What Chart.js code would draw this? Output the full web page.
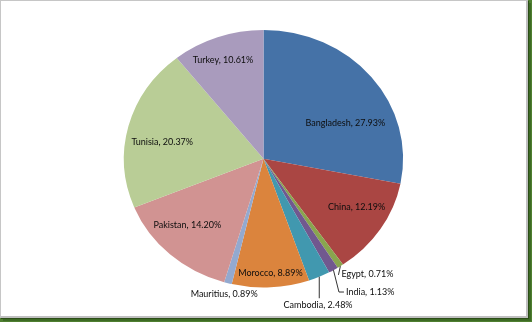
<!DOCTYPE html>
<html>
<head>
<meta charset="utf-8">
<script src="https://cdn.jsdelivr.net/npm/chart.js@4/dist/chart.umd.min.js"></script>
<style>
    body { margin: 0; background: #4f7f30; width: 532px; height: 322px; overflow: hidden; }
    #quadro {
        position: absolute; left: 0; top: 0;
        width: 525px; height: 315px;
        background: #fff;
        border: 1px solid #c6c6c6;
        border-right: 2px solid #c0c0c0;
        border-bottom: 2px solid #c0c0c0;
        box-shadow: 1px 1px 0 #2c4d18, 3px 3px 0 #3d6a24;
    }
    #grafico { position: absolute; left: 0; top: 0; }
</style>
</head>
<body>
<div id="quadro"></div>
<canvas id="grafico" width="532" height="322"></canvas>
<script>
// dados
const paises = ['Bangladesh', 'China', 'Egypt', 'India', 'Cambodia', 'Morocco', 'Mauritius', 'Pakistan', 'Tunisia', 'Turkey'];
const percentuais = [27.93, 12.19, 0.71, 1.13, 2.48, 8.89, 0.89, 14.20, 20.37, 10.61];

const cores = ['#4572A7', '#AA4643', '#89A54E', '#71588F', '#4198AF', '#DB843D', '#93A9CF', '#D19392', '#B9CD96', '#A99BBD'];

// a pizza original esta achatada na vertical
const achatamento = 0.922;

// posicao dos rotulos: fracao do raio + ajuste em px
const rotulosPos = [
    { f: 0.75, dx: 1, dy: 25, align: 'center' },
    { f: 0.75, dx: 5.5, dy: -4.6, align: 'center' },
    { f: 1, dx: 1.1, dy: 7.7, align: 'left', linha: 'reta' },
    { f: 1, dx: 12.5, dy: 21.9, align: 'left', linha: 'cotovelo' },
    { f: 1, dx: -1.2, dy: 28.5, align: 'center', linha: 'vertical' },
    { f: 0.75, dx: 1.5, dy: 18, align: 'center' },
    { f: 1, dx: -3.8, dy: 10.5, align: 'center' },
    { f: 0.75, dx: -6, dy: -6, align: 'center' },
    { f: 0.75, dx: 0, dy: 8, align: 'center' },
    { f: 0.75, dx: -6, dy: -8, align: 'center' },
];

// Elipse
const elipse = {
    id: 'elipse',
    beforeDatasetsDraw(chart) {
        const { ctx, chartArea: { top, bottom } } = chart;
        const cy = (top + bottom) / 2;
        ctx.save();
        ctx.translate(0, cy);
        ctx.scale(1, achatamento);
        ctx.translate(0, -cy);
    },
    afterDatasetsDraw(chart) {
        chart.ctx.restore();
    }
};

// Rotulos
const rotulos = {
    id: 'rotulos',
    afterDraw(chart) {
        const { ctx } = chart;
        const meta = chart.getDatasetMeta(0);
        ctx.save();
        ctx.font = '10px Lato';
        ctx.fillStyle = '#0d0d0d';
        ctx.strokeStyle = '#333';
        ctx.lineWidth = 1;
        ctx.textBaseline = 'middle';

        meta.data.forEach((arc, i) => {
            const { x, y, startAngle, endAngle, outerRadius } = arc.getProps(['x', 'y', 'startAngle', 'endAngle', 'outerRadius'], true);
            const meio = (startAngle + endAngle) / 2;
            const p = rotulosPos[i];
            const bx = x + Math.cos(meio) * outerRadius;
            const by = y + Math.sin(meio) * outerRadius * achatamento;
            const ax = x + Math.cos(meio) * outerRadius * p.f + p.dx;
            const ay = y + Math.sin(meio) * outerRadius * p.f * achatamento + p.dy;

            if (p.linha) {
                ctx.beginPath();
                ctx.moveTo(bx, by);
                if (p.linha == 'reta') {
                    ctx.lineTo(ax - 3, ay + 1);
                } else if (p.linha == 'cotovelo') {
                    ctx.lineTo(ax - 7, ay);
                    ctx.lineTo(ax - 2, ay);
                } else if (p.linha == 'vertical') {
                    ctx.lineTo(bx, ay - 7);
                }
                ctx.stroke();
            }

            // texto um pouco comprimido, como o Calibri do original
            ctx.save();
            ctx.translate(ax, ay);
            ctx.scale(0.9, 1);
            ctx.textAlign = p.align;
            ctx.fillText(paises[i] + ', ' + percentuais[i].toFixed(2) + '%', 0, 0);
            ctx.restore();
        });
        ctx.restore();
    }
};

// Grafico
const canvas = document.getElementById('grafico');
new Chart(canvas, {
    type: 'pie',
    data: {
        labels: paises,
        datasets: [
            {
                data: percentuais,
                backgroundColor: cores,
                borderWidth: 0
            }
        ]
    },
    options: {
        responsive: false,
        animation: false,
        devicePixelRatio: 1,
        layout: {
            padding: { left: 123.9, right: 128.9, top: 19.15, bottom: 23.65 }
        },
        plugins: {
            legend: { display: false },
            tooltip: { enabled: false }
        }
    },
    plugins: [elipse, rotulos]
});
</script>
</body>
</html>
